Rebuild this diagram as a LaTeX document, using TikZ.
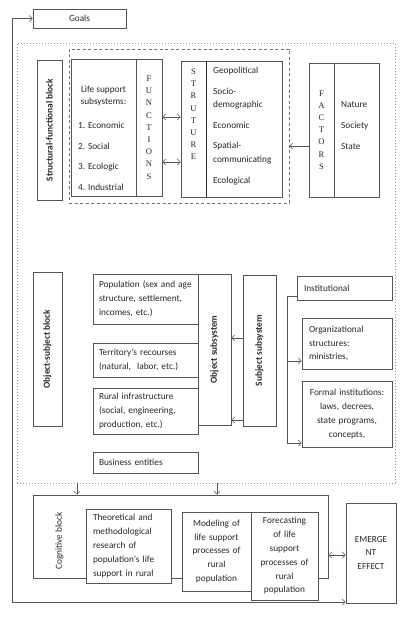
\documentclass[tikz,border=0pt]{standalone}
\usepackage{fontspec}
\setmainfont{Carlito}
\newfontfamily\letterfont{Liberation Serif}
\usepackage{tikz}
\usetikzlibrary{arrows.meta,positioning,calc}
\definecolor{clrLine}{RGB}{85,85,85}
\definecolor{clrText}{RGB}{40,40,40}
\definecolor{clrFrame}{RGB}{150,150,150}
\definecolor{clrBlue}{RGB}{95,115,170}
\tikzset{
  cell/.style={rectangle,draw=clrLine,line width=0.7pt,fill=white,text=clrText,
    font=\fontsize{9.3}{13.8}\selectfont,inner sep=0pt,inner xsep=6pt,align=left},
  letters/.style={font=\letterfont\fontsize{8.6}{12.2}\selectfont,text=clrText,
    align=center,inner sep=0pt},
  arrow/.style={-{Straight Barb[length=3pt,width=6pt]},line width=0.6pt,color=clrLine},
  biarrow/.style={{Straight Barb[length=3pt,width=6pt]}-{Straight Barb[length=3pt,width=6pt]},
    line width=0.6pt,color=clrLine}
}
\begin{document}
\begin{tikzpicture}[
    x=1pt,y=-1pt,
    frame/.style={rectangle,inner sep=0pt},
    plain/.style={text=clrText,font=\fontsize{9.3}{13.8}\selectfont,
      inner sep=0pt,align=left}
]
\useasboundingbox (0,0) rectangle (407,617);

% Frames around the upper blocks
\node[frame,draw=clrFrame,line width=0.8pt,dash pattern=on 1pt off 2pt,
  minimum width=378pt,minimum height=440pt] (outerframe) at (206,263) {};
\node[frame,draw=clrBlue,line width=0.7pt,dash pattern=on 3pt off 2.5pt,
  minimum width=220pt,minimum height=154pt] (coreframe) at (179,126) {};

\node[cell,align=center,minimum width=93pt,minimum height=19pt] (goals)
  at (79.5,18.5) {Goals};

% Structural-functional block
\node[cell,align=center,minimum width=25pt,minimum height=140pt] (sfblock)
  at (49.5,130) {\rotatebox{90}{\bfseries Structural-functional block}};

\node[cell,minimum width=65pt,minimum height=137pt] (lifesup) at (103.5,127.5) {};
\node[plain,align=center] (lifehead) at (103.5,96.3)
  {Life support\\[-1.8pt]subsystems:};
\node[plain,anchor=west] (lifelist) at (78,156.4)
  {1. Economic\\[7pt]2. Social\\[7pt]3. Ecologic\\[7pt]4. Industrial};
\node[cell,letters,minimum width=26pt,minimum height=137pt] (functions)
  at (149,127.5) {F\\U\\N\\C\\T\\I\\O\\N\\S};

\node[cell,minimum width=25pt,minimum height=136pt] (stru) at (193.5,129) {};
\node[letters,anchor=north] (struletters) at ([yshift=-8pt]stru.north)
  {S\\T\\R\\U\\T\\U\\R\\E};
\node[cell,minimum width=76pt,minimum height=136pt] (strulist) at (244,129) {};
\node[plain,anchor=west] (strutext) at (213,126)
  {Geopolitical\\[6.7pt]Socio-\\demographic\\[6.7pt]Economic\\[6.7pt]%
   Spatial-\\communicating\\[6.7pt]Ecological};
\draw[line width=1.5pt,black!85] (stru.north east) -- (stru.south east);

\node[cell,letters,minimum width=25pt,minimum height=134pt] (fact)
  at (321.5,130) {F\\A\\C\\T\\O\\R\\S};
\node[cell,minimum width=45pt,minimum height=134pt] (factlist) at (356.5,130) {};
\node[plain,anchor=west] (facttext) at (341,126)
  {Nature\\[7.2pt]Society\\[7.2pt]State};

\draw[biarrow] ([yshift=10.5pt]functions.east) -- ([yshift=10.5pt]functions.east -| stru.west);
\draw[biarrow] ([yshift=-34.5pt]functions.east) -- ([yshift=-34.5pt]functions.east -| stru.west);
\draw[arrow] ([yshift=-16pt]fact.west) -- ([yshift=-16pt]fact.west -| coreframe.east);

% Object-subject block
\node[cell,align=center,minimum width=29pt,minimum height=154pt] (osblock)
  at (47.5,349) {\rotatebox{90}{\bfseries Object-subject block}};

\node[cell,text width=93pt,minimum width=105pt,minimum height=50pt] (popul)
  at (145.5,299) {Population (sex and age\\structure, settlement,\\incomes, etc.)};
\node[cell,text width=93pt,minimum width=105pt,minimum height=34pt] (terr)
  at (145.5,360) {Territory's recourses\\(natural,\ \ labor, etc.)};
\node[cell,text width=93pt,minimum width=105pt,minimum height=46pt] (rural)
  at (145.5,411) {Rural infrastructure\\(social, engineering,\\production, etc.)};
\node[cell,text width=93pt,minimum width=105pt,minimum height=21pt] (business)
  at (145.5,462.5) {Business entities};

\node[cell,align=center,minimum width=33pt,minimum height=151pt] (obj)
  at (214.5,349.5) {\rotatebox{90}{\bfseries Object subsystem}};
\node[cell,align=center,minimum width=33pt,minimum height=151pt] (subj)
  at (259.5,350.5) {\rotatebox{90}{\bfseries Subject subsystem}};
\draw[arrow] ([yshift=12.5pt]subj.west) -- ([yshift=12.5pt]subj.west -| obj.east);
\draw[arrow] ([yshift=-69.5pt]subj.west) -- ([yshift=-69.5pt]subj.west -| obj.east);

\node[cell,inner xsep=7pt,text width=81pt,minimum width=95pt,minimum height=24pt]
  (inst) at (344.5,288) {Institutional\\[-3pt]};
\node[cell,inner xsep=7pt,text width=76pt,minimum width=90pt,minimum height=51pt]
  (org) at (347,343.5) {Organizational\\structures:\\ministries,};
\node[cell,align=center,inner xsep=5pt,text width=80pt,minimum width=90pt,
  minimum height=66pt] (formal) at (347,414)
  {Formal institutions:\\laws, decrees,\\state programs,\\concepts,\\[3pt]};
\draw[arrow] ([yshift=-8pt]inst.west) -| ([xshift=-14pt,yshift=-29pt]formal.west)
  -- ([yshift=-29pt]formal.west);
\draw[arrow] ([xshift=-14pt,yshift=-17.5pt]org.west) -- ([yshift=-17.5pt]org.west);

% Cognitive block
\node[cell,fill=none,minimum width=295pt,minimum height=83pt] (cogframe)
  at (180.5,536.5) {};
\node[plain,align=center] (coglabel) at (59.5,541) {\rotatebox{90}{Cognitive block}};
\node[cell,inner xsep=7pt,text width=71pt,minimum width=85pt,minimum height=74pt]
  (theo) at (128.5,546)
  {Theoretical and\\methodological\\research of\\population`s life\\support in rural};
\node[cell,align=center,inner xsep=4pt,text width=61pt,minimum width=69pt,
  minimum height=79pt] (model) at (216.5,551.5)
  {Modeling of\\life support\\processes of\\rural\\population};
\node[cell,align=center,inner xsep=4pt,text width=59pt,minimum width=67pt,
  minimum height=88pt] (fore) at (284.5,556)
  {Forecasting\\of life\\support\\processes of\\rural\\population};
\node[cell,align=center,inner xsep=4pt,text width=42pt,minimum width=50pt,
  minimum height=100pt] (emergent) at (371,553) {EMERGE\\NT\\EFFECT};

\coordinate (dropA) at ([xshift=-103.5pt]cogframe.north);
\coordinate (dropB) at ([xshift=36.5pt]cogframe.north);
\draw[arrow] (dropA |- outerframe.south) -- (dropA);
\draw[arrow] (dropB |- outerframe.south) -- (dropB);
\draw[biarrow] ([yshift=-18.5pt]cogframe.east) -- ([yshift=-18.5pt]cogframe.east -| emergent.west);

% Feedback loop from the effect back to the goals
\coordinate (loopcorner) at (12,602);
\draw[biarrow] (goals.west) -| (loopcorner) -- (loopcorner -| emergent.west);
\end{tikzpicture}
\end{document}
